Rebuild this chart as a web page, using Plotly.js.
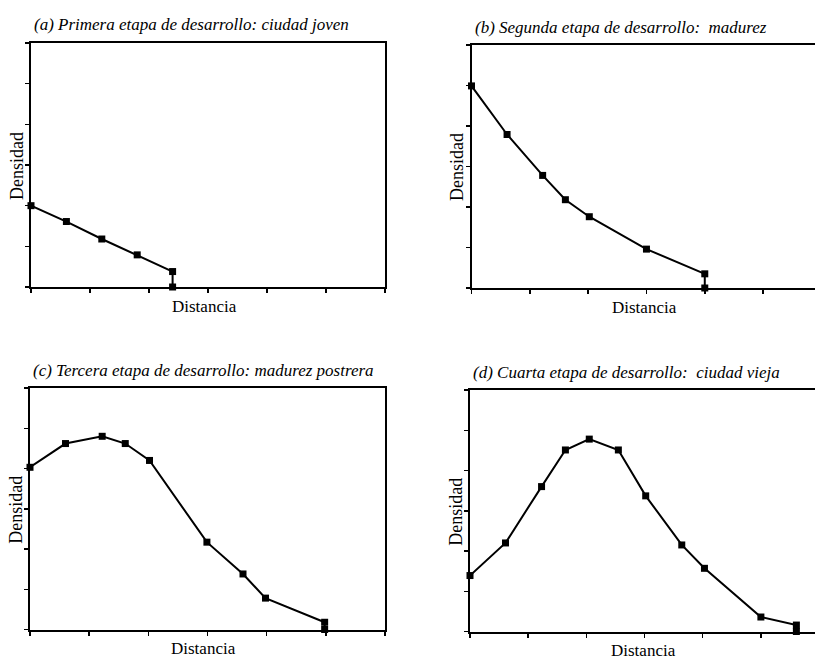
<!DOCTYPE html>
<html>
<head>
<meta charset="utf-8">
<script src="https://cdn.plot.ly/plotly-3.0.1.min.js"></script>
<style>html,body{margin:0;padding:0;background:#fff;}#chart{width:815px;height:662px;}</style>
</head>
<body>
<div id="chart"></div>
<script>
// Data (axis units: one tick interval = 1)
const titles = [
  "(a) Primera etapa de desarrollo: ciudad joven",
  "(b) Segunda etapa de desarrollo:  madurez",
  "(c) Tercera etapa de desarrollo: madurez postrera",
  "(d) Cuarta etapa de desarrollo:  ciudad vieja"
];
const xLabel = "Distancia";
const yLabel = "Densidad";

const aX = [0, 0.6, 1.2, 1.8, 2.4, 2.4];
const aY = [2.0, 1.61, 1.18, 0.79, 0.38, 0];

const bX = [0, 0.61, 1.22, 1.61, 2.02, 3.0, 4.0, 4.0];
const bY = [4.99, 3.79, 2.78, 2.18, 1.76, 0.96, 0.35, 0];

const cX = [0, 0.6, 1.22, 1.61, 2.02, 2.99, 3.6, 3.98, 4.98, 4.98];
const cY = [4.03, 4.62, 4.8, 4.62, 4.2, 2.17, 1.38, 0.78, 0.18, 0];

const dX = [0, 0.61, 1.23, 1.64, 2.05, 2.55, 3.02, 3.64, 4.03, 5.0, 5.61, 5.61];
const dY = [1.39, 2.2, 3.6, 4.51, 4.78, 4.51, 3.37, 2.15, 1.57, 0.36, 0.16, 0];

const W = 815, H = 662;
const px = x => x / W;
const py = y => 1 - y / H;

// panel boxes in pixels: [left, right, top, bottom]
const boxes = [
  [31, 385, 43, 287],
  [471.5, 815, 45, 288],
  [30, 385, 388, 629.5],
  [470, 815, 390, 631.5]
];
const xMax = [6, 5.89, 6, 5.93];
const mirrorY = [true, false, true, false];

const series = [[aX, aY], [bX, bY], [cX, cY], [dX, dY]];
const serif = "'Liberation Serif', 'DejaVu Serif', serif";

const data = series.map((s, i) => ({
  x: s[0], y: s[1],
  xaxis: i === 0 ? 'x' : 'x' + (i + 1),
  yaxis: i === 0 ? 'y' : 'y' + (i + 1),
  type: 'scatter', mode: 'lines+markers',
  line: {color: '#000', width: 2},
  marker: {symbol: 'square', size: 7, color: '#000'},
  cliponaxis: false,
  showlegend: false,
  hoverinfo: 'skip'
}));

const layout = {
  width: W, height: H,
  margin: {l: 0, r: 0, t: 0, b: 0},
  paper_bgcolor: '#fff', plot_bgcolor: '#fff',
  font: {family: serif, color: '#000'},
  showlegend: false,
  annotations: []
};

boxes.forEach((b, i) => {
  const sx = i === 0 ? '' : String(i + 1);
  layout['xaxis' + sx] = {
    domain: [px(b[0]), px(b[1])],
    anchor: 'y' + sx,
    range: [0, xMax[i]],
    tickmode: 'linear', tick0: 0, dtick: 1,
    ticks: 'outside', ticklen: 4, tickwidth: 1.5, tickcolor: '#000',
    showticklabels: false, showgrid: false, zeroline: false,
    showline: true, linewidth: 2, linecolor: '#000', mirror: true,
    fixedrange: true
  };
  layout['yaxis' + sx] = {
    domain: [py(b[3]), py(b[2])],
    anchor: 'x' + sx,
    range: [0, 6],
    tickmode: 'linear', tick0: 0, dtick: 1,
    ticks: 'outside', ticklen: 4, tickwidth: 1.5, tickcolor: '#000',
    showticklabels: false, showgrid: false, zeroline: false,
    showline: true, linewidth: 2, linecolor: '#000', mirror: mirrorY[i],
    fixedrange: true
  };
  // panel title
  layout.annotations.push({
    text: titles[i],
    xref: 'paper', yref: 'paper',
    x: px(b[0] + 1), y: py(b[2] - 18),
    xanchor: 'left', yanchor: 'middle',
    showarrow: false,
    font: {family: serif, size: 17, style: 'italic', color: '#000'}
  });
  // x label
  layout.annotations.push({
    text: xLabel,
    xref: 'paper', yref: 'paper',
    x: px(b[0] + 173), y: py(b[3] + 19),
    xanchor: 'center', yanchor: 'middle',
    showarrow: false,
    font: {family: serif, size: 17, color: '#000'}
  });
  // y label
  layout.annotations.push({
    text: yLabel,
    xref: 'paper', yref: 'paper',
    x: px(b[0] - 14), y: py((b[2] + b[3]) / 2 + 1),
    xanchor: 'center', yanchor: 'middle',
    textangle: -90,
    showarrow: false,
    font: {family: serif, size: 18, color: '#000'}
  });
});

Plotly.newPlot('chart', data, layout, {staticPlot: true, displayModeBar: false});
</script>
</body>
</html>
